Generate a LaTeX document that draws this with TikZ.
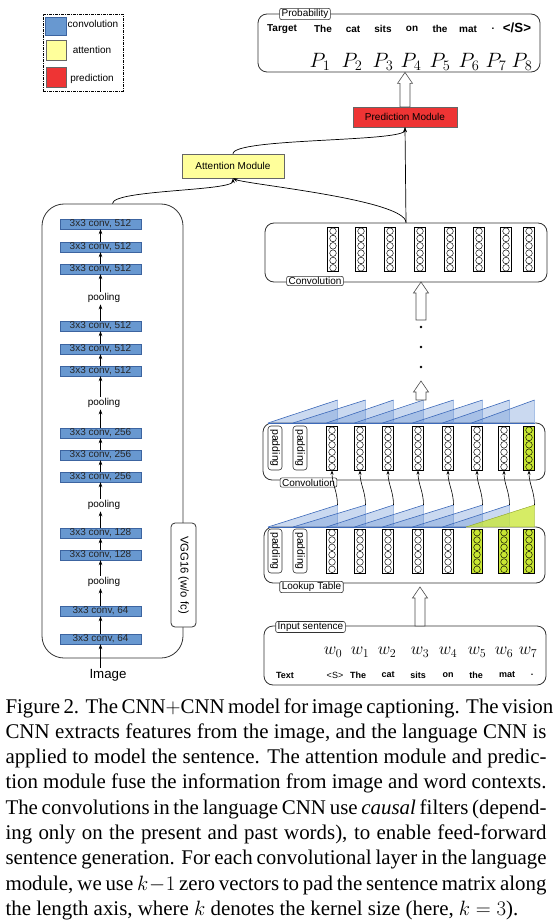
\documentclass[tikz,border=0pt]{standalone}
\usepackage{fontspec}
\setmainfont{Liberation Serif}
\setsansfont{Liberation Sans}
\usetikzlibrary{arrows.meta}
\definecolor{convblue}{RGB}{104,152,208}
\definecolor{convedge}{RGB}{60,100,160}
\definecolor{attyellow}{RGB}{255,255,155}
\definecolor{predred}{RGB}{238,52,52}
\definecolor{limeg}{RGB}{200,230,50}
\definecolor{triblue}{RGB}{95,140,210}
\definecolor{triedge}{RGB}{60,105,185}
\definecolor{lineg}{RGB}{50,50,50}
\newcommand\sz[1]{\fontsize{#1}{#1}\selectfont}
\tikzset{
  vconv/.style={draw=convedge, fill=convblue, minimum width=81pt, minimum height=10pt, inner sep=0pt, font=\sffamily\sz{10}, text=black!85},
  pooltxt/.style={font=\sffamily\sz{10}, inner sep=1.5pt},
  arr/.style={-{Stealth[length=5pt,width=3.6pt]}, line width=0.7pt, black},
  thinarr/.style={-{Stealth[length=4pt,width=3pt]}, line width=0.6pt, black},
  lbox/.style={draw=lineg, line width=0.8pt, rounded corners=9pt, inner sep=0pt},
  tabbox/.style={draw=lineg, fill=white, line width=0.6pt, rounded corners=2pt, font=\sffamily\sz{10}, inner xsep=2pt, inner ysep=1pt},
  padbox/.style={draw=lineg, fill=white, line width=0.6pt, rounded corners=3pt, minimum width=14pt, minimum height=44pt, inner sep=0pt},
  padtxt/.style={rotate=-90, font=\sffamily\sz{10.5}, inner sep=0pt},
  wtxt/.style={font=\sffamily\bfseries\sz{9}, inner sep=0pt},
  ttxt/.style={font=\sffamily\bfseries\sz{10}, inner sep=0pt},
  hollow/.style={draw=black!70, fill=white, line width=0.6pt},
  capline/.style={anchor=base west, inner sep=0pt, font=\rmfamily\fontsize{20.9}{25.3}\selectfont},
  legtxt/.style={font=\sffamily\sz{10}, inner sep=0pt},
  pics/wcol/.style={code={
    \draw[line width=0.6pt, fill=#1] (-5.5,0) rectangle (5.5,44);
    \foreach \k in {0,...,5} \draw[line width=0.45pt, fill=#1] (0,3.67+7.33*\k) circle (3.3);
  }},
  pics/hollowup/.style={code={
    \draw[hollow] (0,0) -- (7.5,11) -- (5,11) -- (5,#1) -- (-5,#1) -- (-5,11) -- (-7.5,11) -- cycle;
  }}
}
\begin{document}
\begin{tikzpicture}[x=1pt,y=-1pt]
\useasboundingbox (0,0) rectangle (553,920);

% ---------- legend ----------
\node[draw=black, dash pattern=on 3pt off 1pt on 1pt off 1pt, line width=0.7pt, minimum width=80pt, minimum height=77pt, inner sep=0pt] (legend) at (83,52.5) {};
\node[draw=convedge, fill=convblue, minimum width=21pt, minimum height=18pt, inner sep=0pt] (lg1) at (55.5,26) {};
\node[draw=black!60, fill=attyellow, minimum width=20pt, minimum height=20pt, inner sep=0pt] (lg2) at (56,50) {};
\node[draw=black!60, fill=predred, minimum width=20pt, minimum height=20pt, inner sep=0pt] (lg3) at (56,77) {};
\node[legtxt] (lt1) at (93,24) {convolution};
\node[legtxt] (lt2) at (92,50) {attention};
\node[legtxt] (lt3) at (92,79) {prediction};

% ---------- VGG column ----------
\node[draw=lineg, line width=0.8pt, rounded corners=22pt, minimum width=141pt, minimum height=454pt, inner sep=0pt] (vgg) at (112.5,431) {};
\node[vconv] (v1) at (100.5,639) {3x3 conv, 64};
\node[vconv] (v2) at (100.5,611) {3x3 conv, 64};
\node[pooltxt] (p1) at (104,582) {pooling};
\node[vconv] (v3) at (100.5,555) {3x3 conv, 128};
\node[vconv] (v4) at (100.5,533) {3x3 conv, 128};
\node[pooltxt] (p2) at (104,505) {pooling};
\node[vconv] (v5) at (100.5,477) {3x3 conv, 256};
\node[vconv] (v6) at (100.5,455) {3x3 conv, 256};
\node[vconv] (v7) at (100.5,433) {3x3 conv, 256};
\node[pooltxt] (p3) at (104,403) {pooling};
\node[vconv] (v8) at (100.5,371) {3x3 conv, 512};
\node[vconv] (v9) at (100.5,349) {3x3 conv, 512};
\node[vconv] (v10) at (100.5,326) {3x3 conv, 512};
\node[pooltxt] (p4) at (104,298) {pooling};
\node[vconv] (v11) at (100.5,269) {3x3 conv, 512};
\node[vconv] (v12) at (100.5,247) {3x3 conv, 512};
\node[vconv] (v13) at (100.5,224) {3x3 conv, 512};
\node[font=\sffamily\sz{13.3}, inner sep=1pt] (img) at (108,675) {Image};
\node[draw=lineg, fill=white, line width=0.8pt, rounded corners=4pt, minimum width=25pt, minimum height=104pt, inner sep=0pt] (vgglab) at (183.5,575) {};
\node[rotate=-90, font=\sffamily\sz{11.3}, inner sep=0pt] (vggtxt) at (183.5,575) {VGG16 (w/o fc)};

\draw[arr] (v1.south |- img.north) -- (v1.south);
\draw[arr] (v1.north) -- (v2.south);
\draw[arr] (v2.north) -- (v2.north |- p1.south);
\draw[arr] (v3.south |- p1.north) -- (v3.south);
\draw[arr] (v3.north) -- (v4.south);
\draw[arr] (v4.north) -- (v4.north |- p2.south);
\draw[arr] (v5.south |- p2.north) -- (v5.south);
\draw[arr] (v5.north) -- (v6.south);
\draw[arr] (v6.north) -- (v7.south);
\draw[arr] (v7.north) -- (v7.north |- p3.south);
\draw[arr] (v8.south |- p3.north) -- (v8.south);
\draw[arr] (v8.north) -- (v9.south);
\draw[arr] (v9.north) -- (v10.south);
\draw[arr] (v10.north) -- (v10.north |- p4.south);
\draw[arr] (v11.south |- p4.north) -- (v11.south);
\draw[arr] (v11.north) -- (v12.south);
\draw[arr] (v12.north) -- (v13.south);

% ---------- modules ----------
\node[draw=black!60, fill=predred, minimum width=104.5pt, minimum height=20pt, font=\sffamily\sz{10}, inner sep=0pt] (pred) at (405,117) {Prediction Module};
\node[draw=black!60, fill=attyellow, minimum width=102pt, minimum height=24pt, font=\sffamily\sz{10}, inner sep=0pt] (att) at (233,166) {Attention Module};

% ---------- probability box ----------
\node[lbox, minimum width=282pt, minimum height=58pt] (prob) at (399,43) {};
\node[tabbox] (probtab) at (305,14) {Probability};
\node[ttxt] (tg0) at (282,29) {Target};
\node[ttxt] (tg1) at (323,29) {The};
\node[ttxt] (tg2) at (353,29) {cat};
\node[ttxt] (tg3) at (383,29) {sits};
\node[ttxt] (tg4) at (412,29) {on};
\node[ttxt] (tg5) at (440,29) {the};
\node[ttxt] (tg6) at (468,29) {mat};
\node[ttxt] (tg7) at (493,29) {.};
\node[font=\sffamily\bfseries\sz{13.3}, inner sep=0pt] (tg8) at (517,28) {</S>};
\foreach \x [count=\i] in {320,352,383,411,440,469,496,522}
  \node[font=\sz{20}, inner sep=0pt] (pp\i) at (\x,62) {$P_{\i}$};

% ---------- language boxes ----------
\node[lbox, minimum width=282pt, minimum height=59pt] (ctop) at (406,252.5) {};
\node[lbox, minimum width=282pt, minimum height=57pt] (cmid) at (404,451.5) {};
\node[lbox, minimum width=281pt, minimum height=56pt] (lut) at (404.5,555) {};
\node[lbox, minimum width=282pt, minimum height=59pt] (inbox) at (405,655.5) {};

% triangles above cmid
\foreach \L/\R in {268/337.5, 293/365.5, 326.5/393.5, 354.5/423.5, 382.5/453.5, 412.5/482.5, 442.5/509.5, 471.5/534.5} {
  \fill[triblue, fill opacity=0.33] (\L,423) -- (\R,423) -- (\R,400) -- cycle;
  \draw[triblue!55, line width=0.5pt] (\R,400) -- (\R,423);
  \draw[triedge, line width=0.6pt] (\L,423) -- (\R,400);
}
% triangles above lookup table
\foreach \L/\R in {268/337.5, 293/365.5, 326.5/393.5, 354.5/423.5, 382.5/453.5, 412.5/482.5, 442.5/509.5} {
  \fill[triblue, fill opacity=0.33] (\L,527) -- (\R,527) -- (\R,505) -- cycle;
  \draw[triblue!55, line width=0.5pt] (\R,505) -- (\R,527);
  \draw[triedge, line width=0.6pt] (\L,527) -- (\R,505);
}
\fill[limeg, fill opacity=0.75] (466,527) -- (534.5,527) -- (534.5,505) -- cycle;
\draw[limeg!70!black, line width=0.4pt] (466,527) -- (534.5,505) -- (534.5,527);
\draw[triedge, line width=0.9pt] (268,423) -- (534.5,423);
\draw[triedge, line width=0.9pt] (268,527) -- (466,527);

% columns
\foreach \x in {333,361,390,420,450,479,506,529} \pic at (\x,227.5) {wcol=white};
\foreach \x in {332,360,388,418,448,477,504} \pic at (\x,426.5) {wcol=white};
\pic at (529,426.5) {wcol=limeg};
\foreach \x in {332,360,388,418,448} \pic at (\x,529) {wcol=white};
\foreach \x in {477,504,529} \pic at (\x,529) {wcol=limeg};

% paddings
\node[padbox] (pm1) at (275,448) {};
\node[padbox] (pm2) at (300,448) {};
\node[padbox] (pl1) at (275,551) {};
\node[padbox] (pl2) at (300,551) {};
\node[padtxt] at (pm1) {padding};
\node[padtxt] at (pm2) {padding};
\node[padtxt] at (pl1) {padding};
\node[padtxt] at (pl2) {padding};

% tabs
\node[tabbox] (ctoptab) at (315,281) {Convolution};
\node[tabbox] (cmidtab) at (308.5,482.5) {Convolution};
\node[tabbox] (luttab) at (311.5,587) {Lookup Table};
\node[tabbox] (intab) at (310.5,627) {Input sentence};

% input sentence contents
\foreach \x [count=\i from 0] in {333,360,387,420,448,477,504,528}
  \node[font=\sz{18.5}, inner sep=0pt] (ww\i) at (\x,652) {$w_{\i}$};
\node[wtxt] (tx0) at (285,675) {Text};
\node[font=\sffamily\sz{9}, inner sep=0pt] (tx1) at (335,675) {<S>};
\node[wtxt] (tx2) at (358,675) {The};
\node[wtxt] (tx3) at (388,675) {cat};
\node[wtxt] (tx4) at (418,675) {sits};
\node[wtxt] (tx5) at (448,675) {on};
\node[wtxt] (tx6) at (476,675) {the};
\node[wtxt] (tx7) at (507,675) {mat};
\node[wtxt] (tx8) at (532,675) {.};

% hollow arrows and dots
\pic at (pred.north |- prob.south) {hollowup=34.5};
\pic at (421,282) {hollowup=38};
\pic at (421,381) {hollowup=19};
\pic at (420,587) {hollowup=39};
\foreach \y [count=\i] in {327,347,367} \fill[black] (421,\y) circle (1.3);

% causal connections lookup -> conv
\foreach \R/\X [count=\i] in {337.5/332, 365.5/360, 393.5/388, 423.5/418, 453.5/448, 482.5/477, 509.5/504, 534.5/529} {
  \coordinate (tt\i) at (\R,505);
  \coordinate (mb\i) at (\X,470.5);
  \draw[thinarr] (tt\i) .. controls +(0,-14) and +(0,14) .. (mb\i);
}

% module connectors
\draw[arr] (vgg.north) .. controls +(0,-14) and +(0,13) .. (att.south);
\draw[arr] (ctop.north) .. controls +(0,-23) and +(12,6) .. (att.south);
\draw[arr] (att.north) .. controls +(0,-16) and +(0,15) .. (pred.south);
\draw[arr] (ctop.north) -- (pred.south);

% ---------- caption ----------
\node[capline] (cap1) at (5.3,713) {\hbox to 541pt{Figure 2. The CNN$+$CNN model for image captioning. The vision}};
\node[capline] (cap2) at (5.3,738.3) {\hbox to 541pt{CNN extracts features from the image, and the language CNN is}};
\node[capline] (cap3) at (5.3,763.6) {\hbox to 541pt{applied to model the sentence. The attention module and predic-}};
\node[capline] (cap4) at (5.3,788.9) {\hbox to 541pt{tion module fuse the information from image and word contexts.}};
\node[capline] (cap5) at (5.3,814.2) {\hbox to 541pt{The convolutions in the language CNN use \textit{causal} filters (depend-}};
\node[capline] (cap6) at (5.3,839.5) {\hbox to 541pt{ing only on the present and past words), to enable feed-forward}};
\node[capline] (cap7) at (5.3,864.8) {\hbox to 541pt{sentence generation. For each convolutional layer in the language}};
\node[capline] (cap8) at (5.3,890.1) {\hbox to 541pt{module, we use $k-1$ zero vectors to pad the sentence matrix along}};
\node[capline] (cap9) at (5.3,915.4) {the length axis, where $k$ denotes the kernel size (here, $k=3$).};
\end{tikzpicture}
\end{document}
